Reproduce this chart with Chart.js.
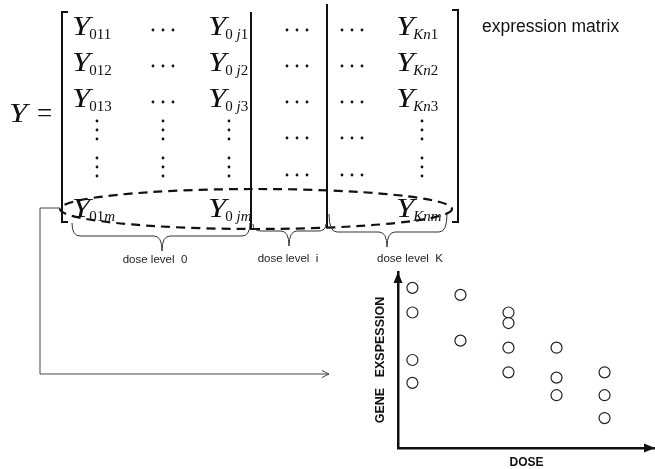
<!DOCTYPE html>
<html>
<head>
<meta charset="utf-8">
<script src="https://cdn.jsdelivr.net/npm/chart.js@4"></script>
<style>
  body { margin: 0; background: #fff; }
  #wrap { width: 655px; height: 469px; }
</style>
</head>
<body>
<div id="wrap"><canvas id="chartDose" width="655" height="469"></canvas></div>
<script>
// ———————————————————
//  Datos
// ———————————————————
const doseLevels = [1, 1, 1, 1, 2, 2, 3, 3, 3, 3, 4, 4, 4, 5, 5, 5];
const expression = [9.1, 7.7, 5.0, 3.7, 8.7, 6.1, 7.7, 7.1, 5.7, 4.3, 5.7, 4.0, 3.0, 4.3, 3.0, 1.7];

const xTitle = 'DOSE';
const yTitle = 'GENE   EXSPESSION';
const matrixTitle = 'expression matrix';
const doseLabels = ['dose level  0', 'dose level  i', 'dose level  K'];

// subíndices de la matriz: [texto, cursiva]
const firstCol = [[['011', false]], [['012', false]], [['013', false]]];
const jCol = [[['0 ', false], ['j', true], ['1', false]],
              [['0 ', false], ['j', true], ['2', false]],
              [['0 ', false], ['j', true], ['3', false]]];
const kCol = [[['K', true], ['n', true], ['1', false]],
              [['K', true], ['n', true], ['2', false]],
              [['K', true], ['n', true], ['3', false]]];
const lastRow = [[['01', false], ['m', true]],
                 [['0 ', false], ['j', true], ['m', true]],
                 [['K', true], ['n', true], ['m', true]]];

const rowBase = [35, 71, 107];

// ———————————————————
//  Dibujo de la matriz
// ———————————————————
// la Y va un poco ensanchada, como en la fórmula original
function drawY(ctx, x, base) {
  ctx.save();
  ctx.font = 'italic 27px "Liberation Serif"';
  ctx.translate(x, base);
  ctx.scale(1.22, 1);
  ctx.fillText('Y', 0, 0);
  const w = ctx.measureText('Y').width * 1.22;
  ctx.restore();
  return w;
}

function drawEntry(ctx, x, base, sub) {
  let cx = x + drawY(ctx, x, base) - 1;
  sub.forEach(([txt, it]) => {
    ctx.font = (it ? 'italic ' : '') + '15px "Liberation Serif"';
    ctx.fillText(txt, cx, base + 3.5);
    cx += ctx.measureText(txt).width;
  });
}

function hDots(ctx, cx, cy) {
  for (let i = -1; i <= 1; i++) {
    ctx.beginPath(); ctx.arc(cx + i * 10, cy, 1.4, 0, Math.PI * 2); ctx.fill();
  }
}

function vDots(ctx, cx, cy) {
  for (let i = -1; i <= 1; i++) {
    ctx.beginPath(); ctx.arc(cx, cy + i * 9, 1.4, 0, Math.PI * 2); ctx.fill();
  }
}

function brace(ctx, x1, x2, yTop, yFlat, tipX, tipY) {
  const r = 8;
  ctx.beginPath();
  ctx.moveTo(x1, yTop);
  ctx.quadraticCurveTo(x1, yFlat, x1 + r, yFlat);
  ctx.lineTo(tipX - r, yFlat);
  ctx.quadraticCurveTo(tipX, yFlat, tipX, tipY);
  ctx.quadraticCurveTo(tipX, yFlat, tipX + r, yFlat);
  ctx.lineTo(x2 - r, yFlat);
  ctx.quadraticCurveTo(x2, yFlat, x2, yTop);
  ctx.stroke();
}

const matrixPlugin = {
  id: 'matrix',
  afterDraw(chart) {
    const ctx = chart.ctx;
    ctx.save();
    ctx.fillStyle = '#111';
    ctx.strokeStyle = '#111';
    ctx.textBaseline = 'alphabetic';
    ctx.textAlign = 'left';

    // Y =
    drawY(ctx, 9, 122);
    ctx.font = '27px "Liberation Serif"';
    ctx.fillText('=', 37, 122);

    // corchetes
    ctx.lineWidth = 2;
    ctx.beginPath();
    ctx.moveTo(68, 12); ctx.lineTo(62, 12); ctx.lineTo(62, 222); ctx.lineTo(68, 222);
    ctx.moveTo(452, 10); ctx.lineTo(458, 10); ctx.lineTo(458, 222); ctx.lineTo(452, 222);
    ctx.stroke();

    // separadores de bloques
    ctx.beginPath();
    ctx.moveTo(251, 12); ctx.lineTo(251, 230);
    ctx.moveTo(327, 4); ctx.lineTo(327, 228);
    ctx.stroke();

    // filas 1..3
    rowBase.forEach((b, i) => {
      drawEntry(ctx, 72, b, firstCol[i]);
      hDots(ctx, 163, b - 5);
      drawEntry(ctx, 208, b, jCol[i]);
      hDots(ctx, 297, b - 5);
      hDots(ctx, 352, b - 5);
      drawEntry(ctx, 396, b, kCol[i]);
    });
    // filas de puntos
    [130, 167].forEach(cy => {
      [97, 163, 229, 422].forEach(cx => vDots(ctx, cx, cy));
      hDots(ctx, 297, cy + 8);
      hDots(ctx, 352, cy + 8);
    });
    // última fila
    drawEntry(ctx, 72, 217, lastRow[0]);
    drawEntry(ctx, 208, 217, lastRow[1]);
    drawEntry(ctx, 396, 217, lastRow[2]);

    // elipse punteada
    ctx.lineWidth = 2.2;
    ctx.setLineDash([9, 6]);
    ctx.beginPath();
    ctx.ellipse(256, 209, 196, 20, 0, 0, Math.PI * 2);
    ctx.stroke();
    ctx.setLineDash([]);

    // llaves
    ctx.lineWidth = 1;
    ctx.strokeStyle = '#333';
    brace(ctx, 72, 250, 223, 236, 162, 251);
    brace(ctx, 253, 326, 224, 231, 289, 246);
    brace(ctx, 329, 447, 214, 232, 387, 247);

    ctx.fillStyle = '#222';
    ctx.font = '11.5px "Liberation Sans"';
    ctx.textAlign = 'center';
    ctx.fillText(doseLabels[0], 155, 263);
    ctx.fillText(doseLabels[1], 288, 262);
    ctx.fillText(doseLabels[2], 410, 262);

    ctx.textAlign = 'left';
    ctx.fillStyle = '#111';
    ctx.font = '17.5px "Liberation Sans"';
    ctx.fillText(matrixTitle, 482, 32);

    // conector hacia el gráfico
    ctx.strokeStyle = '#444';
    ctx.lineWidth = 1;
    ctx.beginPath();
    ctx.moveTo(60, 208); ctx.lineTo(40, 208); ctx.lineTo(40, 374); ctx.lineTo(329, 374);
    ctx.moveTo(322, 370.5); ctx.lineTo(329, 374); ctx.lineTo(322, 377.5);
    ctx.stroke();

    // flechas de los ejes
    const a = chart.chartArea;
    ctx.fillStyle = '#111';
    ctx.beginPath();
    ctx.moveTo(a.left, a.top); ctx.lineTo(a.left - 4.5, a.top + 11); ctx.lineTo(a.left + 4.5, a.top + 11);
    ctx.closePath(); ctx.fill();
    ctx.beginPath();
    ctx.moveTo(a.right, a.bottom); ctx.lineTo(a.right - 11, a.bottom - 4.5); ctx.lineTo(a.right - 11, a.bottom + 4.5);
    ctx.closePath(); ctx.fill();
    ctx.restore();
  }
};

// ———————————————————
//  Gráfico de dispersión
// ———————————————————
const axisTitleFont = { family: 'Liberation Sans', size: 12, weight: 'bold', lineHeight: 1 };

new Chart(document.getElementById('chartDose'), {
  type: 'scatter',
  data: {
    datasets: [{
      data: doseLevels.map((d, i) => ({ x: d, y: expression[i] })),
      pointRadius: 5.5,
      pointBorderWidth: 1.2,
      pointBorderColor: '#222',
      pointBackgroundColor: '#fff'
    }]
  },
  options: {
    responsive: false,
    animation: false,
    layout: { autoPadding: false, padding: { left: 373, top: 272, right: 0, bottom: 0 } },
    plugins: { legend: { display: false }, tooltip: { enabled: false } },
    scales: {
      x: {
        type: 'linear', min: 0.7, max: 6.05,
        grid: { display: false, drawTicks: false },
        ticks: { display: false },
        border: { display: true, color: '#111', width: 2.5 },
        title: { display: true, text: xTitle, color: '#111', font: axisTitleFont, padding: { top: 9, bottom: 0 } }
      },
      y: {
        min: 0, max: 10,
        grid: { display: false, drawTicks: false },
        ticks: { display: false },
        border: { display: true, color: '#111', width: 2.5 },
        title: { display: true, text: yTitle, color: '#111', font: { ...axisTitleFont, size: 12.5, lineHeight: 1.2 }, padding: { top: 0, bottom: 10 } }
      }
    }
  },
  plugins: [matrixPlugin]
});
</script>
</body>
</html>
